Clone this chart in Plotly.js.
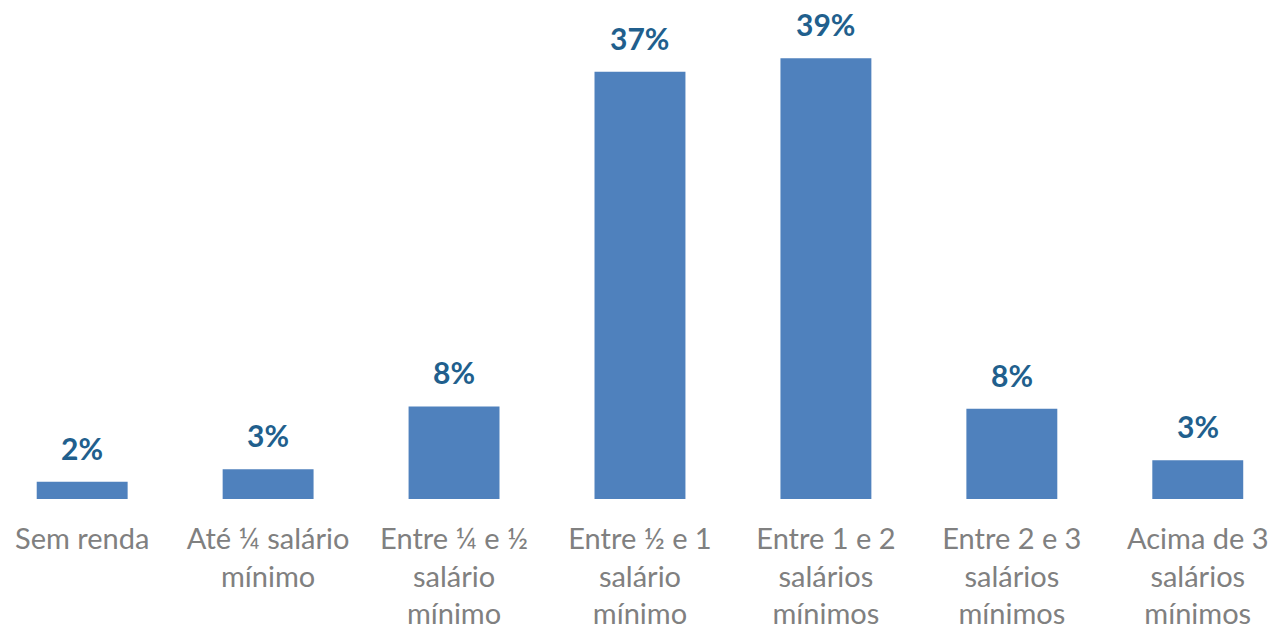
<!DOCTYPE html>
<html>
<head>
<meta charset="utf-8">
<script src="https://cdn.plot.ly/plotly-3.0.1.min.js"></script>
<style>html,body{margin:0;padding:0;background:#fff;}#chart{width:1274px;height:630px;}</style>
</head>
<body>
<div id="chart"></div>
<script>
const categories = [
  "Sem renda",
  "Até ¼ salário<br>mínimo",
  "Entre ¼ e ½<br>salário<br>mínimo",
  "Entre ½ e 1<br>salário<br>mínimo",
  "Entre 1 e 2<br>salários<br>mínimos",
  "Entre 2 e 3<br>salários<br>mínimos",
  "Acima de 3<br>salários<br>mínimos"
];
const values = [1.5, 2.6, 8.1, 37.4, 38.6, 7.9, 3.4];
const valueLabels = ["2%", "3%", "8%", "37%", "39%", "8%", "3%"];

const barColor = "#4F81BD";
const labelColor = "#215F8D";
const tickColor = "#808080";

const trace = {
  type: "bar",
  x: categories,
  y: values,
  marker: {color: barColor},
  hoverinfo: "none"
};

const annotations = categories.map((c, i) => ({
  x: c, y: values[i], xref: "x", yref: "y",
  text: valueLabels[i],
  showarrow: false,
  yanchor: "bottom",
  yshift: 14,
  font: {family: "Lato", size: 30, color: labelColor, weight: 700}
}));

const layout = {
  width: 1274, height: 630,
  margin: {l: 0, r: 0, t: 20, b: 131},
  paper_bgcolor: "#fff", plot_bgcolor: "#fff",
  bargap: 0.511,
  showlegend: false,
  xaxis: {
    type: "category",
    range: [-0.442, 6.41],
    showgrid: false, zeroline: false, showline: false,
    ticks: "", ticklabelstandoff: 20,
    tickfont: {family: "Lato", size: 29, color: tickColor}
  },
  yaxis: {
    range: [0, 41.94],
    visible: false, showgrid: false, zeroline: false
  },
  annotations: annotations
};

Plotly.newPlot("chart", [trace], layout, {displayModeBar: false, staticPlot: true});
</script>
</body>
</html>
